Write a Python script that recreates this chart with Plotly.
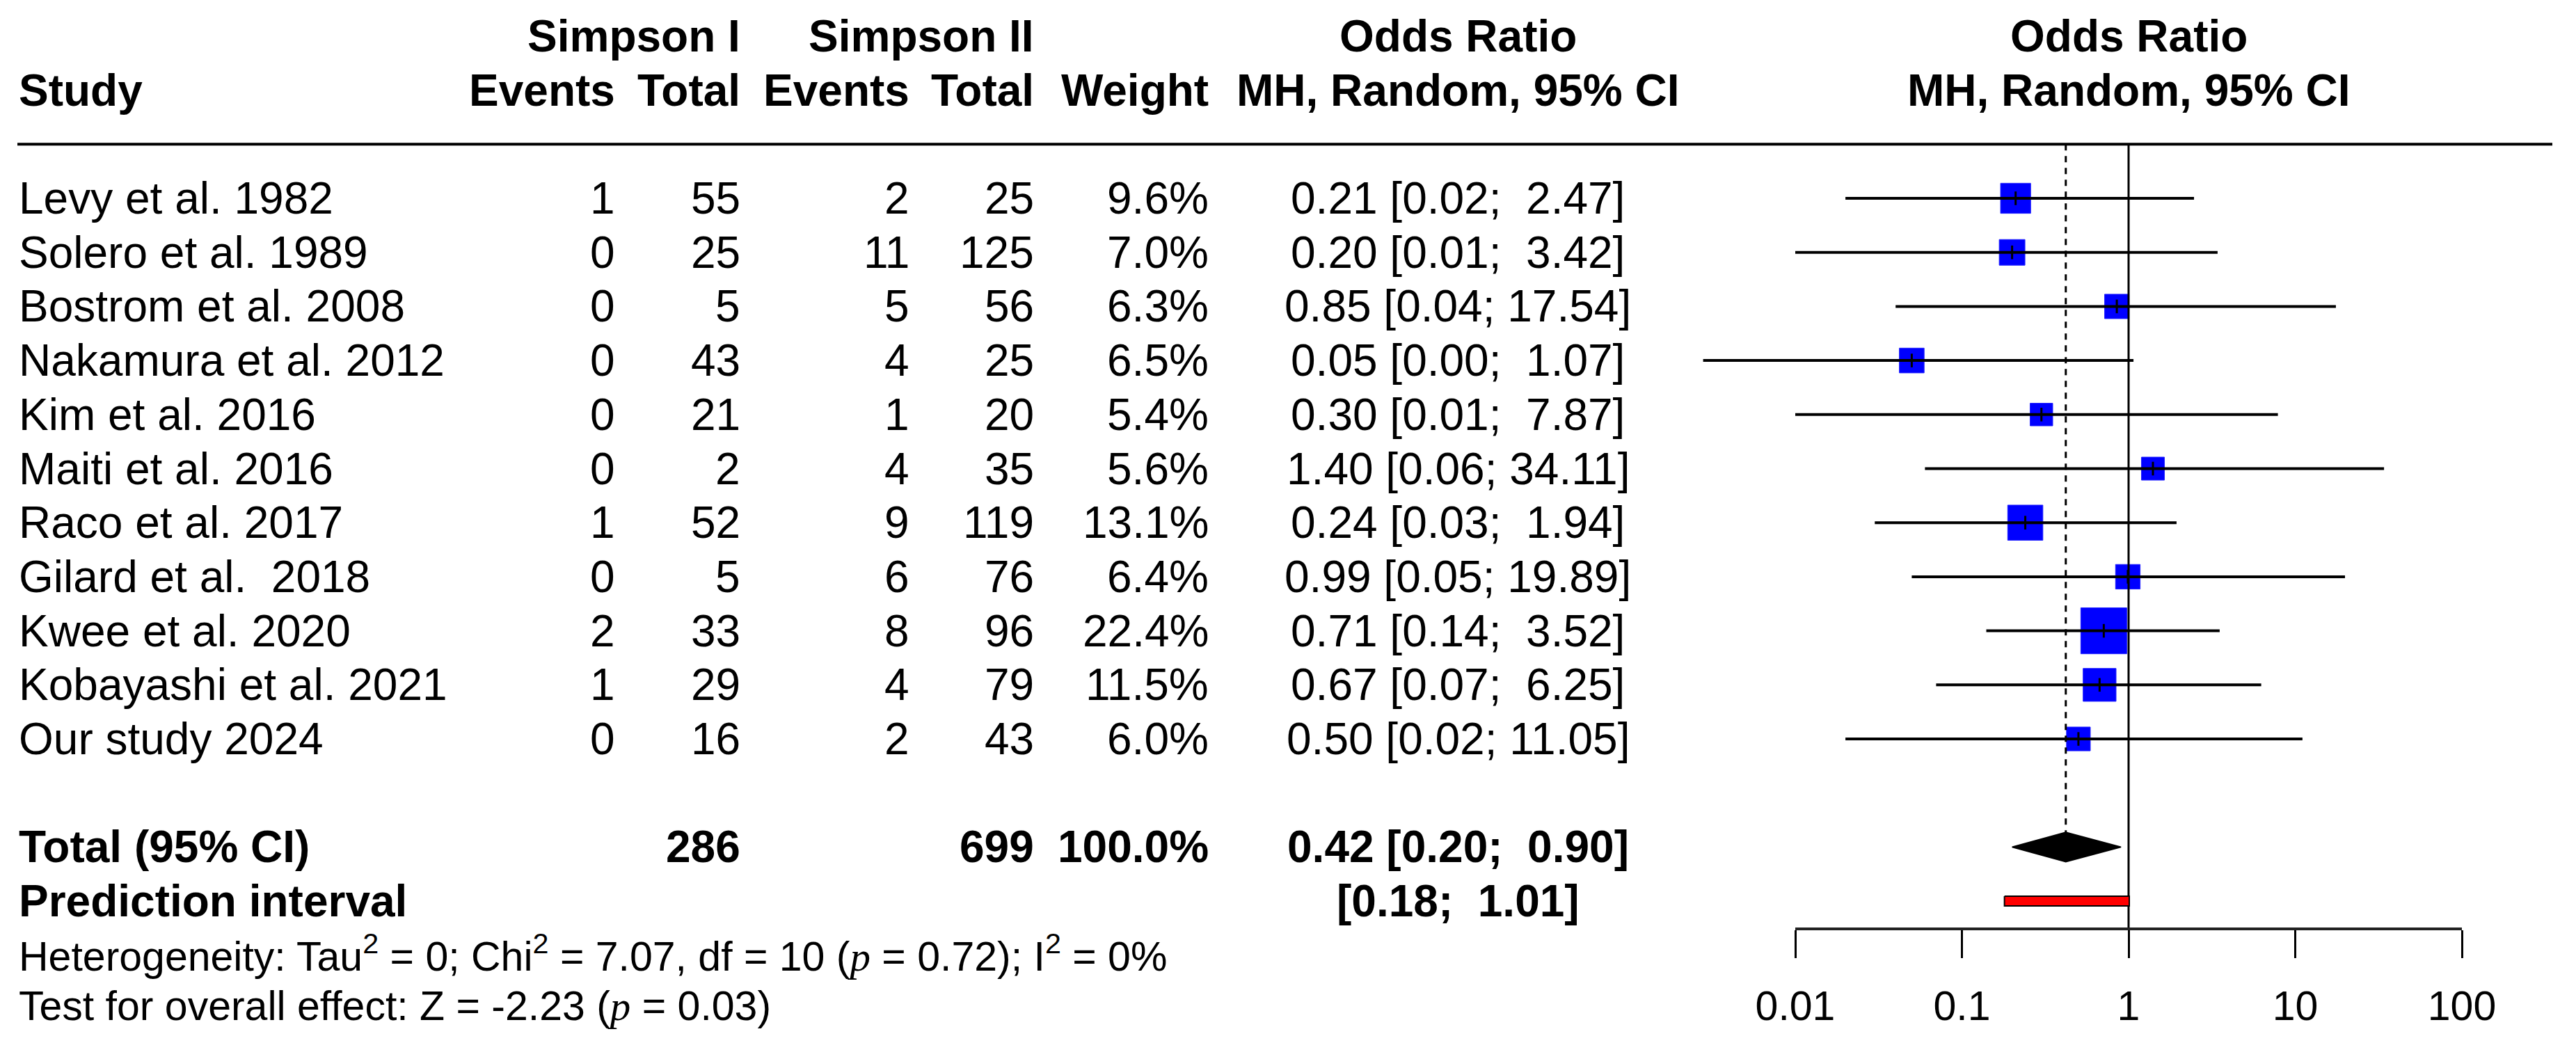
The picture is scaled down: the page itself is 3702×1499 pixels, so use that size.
import plotly.graph_objects as go
import numpy as np

# ---------------- data ----------------
studies = ["Levy et al. 1982", "Solero et al. 1989", "Bostrom et al. 2008",
           "Nakamura et al. 2012", "Kim et al. 2016", "Maiti et al. 2016",
           "Raco et al. 2017", "Gilard et al.  2018", "Kwee et al. 2020",
           "Kobayashi et al. 2021", "Our study 2024"]
events_1 = [1, 0, 0, 0, 0, 0, 1, 0, 2, 1, 0]
total_1 = [55, 25, 5, 43, 21, 2, 52, 5, 33, 29, 16]
events_2 = [2, 11, 5, 4, 1, 4, 9, 6, 8, 4, 2]
total_2 = [25, 125, 56, 25, 20, 35, 119, 76, 96, 79, 43]
weights = [9.6, 7.0, 6.3, 6.5, 5.4, 5.6, 13.1, 6.4, 22.4, 11.5, 6.0]
odds_ratio = [0.21, 0.20, 0.85, 0.05, 0.30, 1.40, 0.24, 0.99, 0.71, 0.67, 0.50]
ci_lower = [0.02, 0.01, 0.04, 0.0028, 0.01, 0.06, 0.03, 0.05, 0.14, 0.07, 0.02]
ci_upper = [2.47, 3.42, 17.54, 1.07, 7.87, 34.11, 1.94, 19.89, 3.52, 6.25, 11.05]

pooled_or = 0.42
pooled_lower = 0.20
pooled_upper = 0.90
pred_lower = 0.18
pred_upper = 1.01
total_weight = 100.0

het_tau2 = "0"
het_chi2 = 7.07
het_df = 10
het_p = 0.72
het_i2 = 0
z_value = -2.23
z_p = 0.03

tick_values = [0.01, 0.1, 1, 10, 100]
tick_labels = ["0.01", "0.1", "1", "10", "100"]
null_value = 1

# ---------------- layout constants ----------------
W, H = 3702, 1499
ROW0_PX, ROW_PX = 285.0, 77.7
X_ONE_PX, DECADE_PX = 3059.0, 239.5
FONT = "Liberation Sans"
FS = 64
FS_SMALL = 59
NB = "\u00a0"

def row_of_px(py):
    return (py - ROW0_PX) / ROW_PX

y_range = [row_of_px(H), row_of_px(0)]
x_range = [(0 - X_ONE_PX) / DECADE_PX, (W - X_ONE_PX) / DECADE_PX]

n = len(studies)
rows = list(range(n))
ROW_TOTAL = n + 1
ROW_PRED = n + 2

fig = go.Figure()

# squares (area proportional to weight)
sizes = [13.95 * np.sqrt(w) for w in weights]
fig.add_trace(go.Scatter(x=odds_ratio, y=rows, mode="markers",
                         marker=dict(symbol="square", size=sizes, color="#0000FF",
                                     opacity=1, line=dict(width=1, color="#2020FF")),
                         hoverinfo="skip", showlegend=False))

# CI lines
cx, cy = [], []
for lo, hi, r in zip(ci_lower, ci_upper, rows):
    cx += [lo, hi, None]
    cy += [r, r, None]
fig.add_trace(go.Scatter(x=cx, y=cy, mode="lines", line=dict(color="black", width=4),
                         hoverinfo="skip", showlegend=False))

# point estimate ticks
fig.add_trace(go.Scatter(x=odds_ratio, y=rows, mode="markers",
                         marker=dict(symbol="line-ns", size=14, opacity=1,
                                     line=dict(width=3, color="black")),
                         hoverinfo="skip", showlegend=False))

# reference line at 1
axis_row = row_of_px(1333)
fig.add_trace(go.Scatter(x=[null_value, null_value], y=[-1, axis_row], mode="lines",
                         line=dict(color="black", width=3), hoverinfo="skip",
                         showlegend=False))

# diamond
dh = 21 / ROW_PX
fig.add_trace(go.Scatter(x=[pooled_lower, pooled_or, pooled_upper, pooled_or, pooled_lower],
                         y=[ROW_TOTAL, ROW_TOTAL - dh, ROW_TOTAL, ROW_TOTAL + dh, ROW_TOTAL],
                         mode="lines", fill="toself", fillcolor="black",
                         line=dict(color="black", width=2), hoverinfo="skip",
                         showlegend=False))

# pooled dashed line
fig.add_trace(go.Scatter(x=[pooled_or, pooled_or], y=[-1, ROW_TOTAL - dh], mode="lines",
                         line=dict(color="black", width=3, dash="9px,8px"),
                         hoverinfo="skip", showlegend=False))

# prediction interval bar
ph = 7 / ROW_PX
fig.add_trace(go.Scatter(x=[pred_lower, pred_upper, pred_upper, pred_lower, pred_lower],
                         y=[ROW_PRED - ph, ROW_PRED - ph, ROW_PRED + ph, ROW_PRED + ph, ROW_PRED - ph],
                         mode="lines", fill="toself", fillcolor="#FF0000",
                         line=dict(color="black", width=2), hoverinfo="skip",
                         showlegend=False))

# dummy trace for the visible axis subplot
fig.add_trace(go.Scatter(x=[1], y=[0], xaxis="x2", yaxis="y2", mode="markers",
                         marker=dict(opacity=0), hoverinfo="skip", showlegend=False))

# ---------------- text ----------------
anns = []

def txt(text, xpx, row, anchor="left", bold=False, size=FS):
    if bold:
        text = "<b>" + text + "</b>"
    anns.append(dict(text=text, x=xpx / W, xref="paper", y=row, yref="y",
                     xanchor=anchor, yanchor="middle", showarrow=False,
                     font=dict(family=FONT, size=size, color="black")))

X_STUDY = 25
X_E1, X_T1, X_E2, X_T2, X_W = 886, 1066, 1309, 1488, 1739
X_CI = 2095
X_FOREST_HDR = X_ONE_PX

# headers
txt("Simpson I", X_T1, -3, "right", True)
txt("Simpson II", X_T2, -3, "right", True)
txt("Odds Ratio", X_CI, -3, "center", True)
txt("Odds Ratio", X_FOREST_HDR, -3, "center", True)
txt("Study", X_STUDY, -2, "left", True)
txt("Events", X_E1, -2, "right", True)
txt("Total", X_T1, -2, "right", True)
txt("Events", X_E2, -2, "right", True)
txt("Total", X_T2, -2, "right", True)
txt("Weight", X_W, -2, "right", True)
txt("MH, Random, 95% CI", X_CI, -2, "center", True)
txt("MH, Random, 95% CI", X_FOREST_HDR, -2, "center", True)

def fmt_ci(est, lo, hi):
    s = f"{est:.2f} [{lo:.2f}; {hi:5.2f}]" if est is not None else f"[{lo:.2f}; {hi:5.2f}]"
    return s.replace(" ", NB)

for i in range(n):
    txt(studies[i].replace(" ", NB), X_STUDY, i, "left")
    txt(str(events_1[i]), X_E1, i, "right")
    txt(str(total_1[i]), X_T1, i, "right")
    txt(str(events_2[i]), X_E2, i, "right")
    txt(str(total_2[i]), X_T2, i, "right")
    txt(f"{weights[i]:.1f}%", X_W, i, "right")
    txt(fmt_ci(odds_ratio[i], ci_lower[i], ci_upper[i]), X_CI, i, "center")

txt("Total (95% CI)", X_STUDY, ROW_TOTAL, "left", True)
txt(str(sum(total_1)), X_T1, ROW_TOTAL, "right", True)
txt(str(sum(total_2)), X_T2, ROW_TOTAL, "right", True)
txt(f"{total_weight:.1f}%", X_W, ROW_TOTAL, "right", True)
txt(fmt_ci(pooled_or, pooled_lower, pooled_upper), X_CI, ROW_TOTAL, "center", True)
txt("Prediction interval", X_STUDY, ROW_PRED, "left", True)
txt(fmt_ci(None, pred_lower, pred_upper), X_CI, ROW_PRED, "center", True)

P_IT = "<span style=\"font-family:'Liberation Serif'\"><i>p</i></span>"
het = (f"Heterogeneity: Tau<sup>2</sup> = {het_tau2}; Chi<sup>2</sup> = {het_chi2:.2f}, "
       f"df = {het_df} ({P_IT} = {het_p:.2f}); I<sup>2</sup> = {het_i2}%")
txt(het, X_STUDY, row_of_px(1370), "left", size=FS_SMALL)
test = f"Test for overall effect: Z = {z_value:.2f} ({P_IT} = {z_p:.2f})"
txt(test, X_STUDY, row_of_px(1446), "left", size=FS_SMALL)

# top separator line
shapes = [dict(type="line", xref="paper", yref="y", x0=25 / W, x1=3668 / W,
               y0=-1, y1=-1, line=dict(color="black", width=4))]

fig.update_layout(
    width=W, height=H,
    margin=dict(l=0, r=0, t=0, b=0, pad=0, autoexpand=False),
    paper_bgcolor="white", plot_bgcolor="rgba(0,0,0,0)",
    showlegend=False,
    xaxis=dict(type="log", range=x_range, domain=[0, 1], visible=False,
               fixedrange=True, automargin=False),
    yaxis=dict(range=y_range, domain=[0, 1], visible=False, fixedrange=True,
               automargin=False),
    xaxis2=dict(type="log", range=[-2, 2], domain=[2580 / W, 3538 / W], anchor="y2",
                showline=True, linecolor="#222222", linewidth=4,
                ticks="outside", ticklen=40, tickwidth=3, tickcolor="black",
                tickvals=tick_values, ticktext=tick_labels, showgrid=False,
                zeroline=False, ticklabelstandoff=18, automargin=False,
                tickfont=dict(family=FONT, size=FS_SMALL, color="black"),
                fixedrange=True),
    yaxis2=dict(domain=[(H - 1333) / H, 0.3], anchor="x2", visible=False,
                range=[0, 1], fixedrange=True, automargin=False),
    annotations=anns,
    shapes=shapes,
)

fig.write_html("out.html", config={"displayModeBar": False},
               post_script="document.body.style.margin='0';")
